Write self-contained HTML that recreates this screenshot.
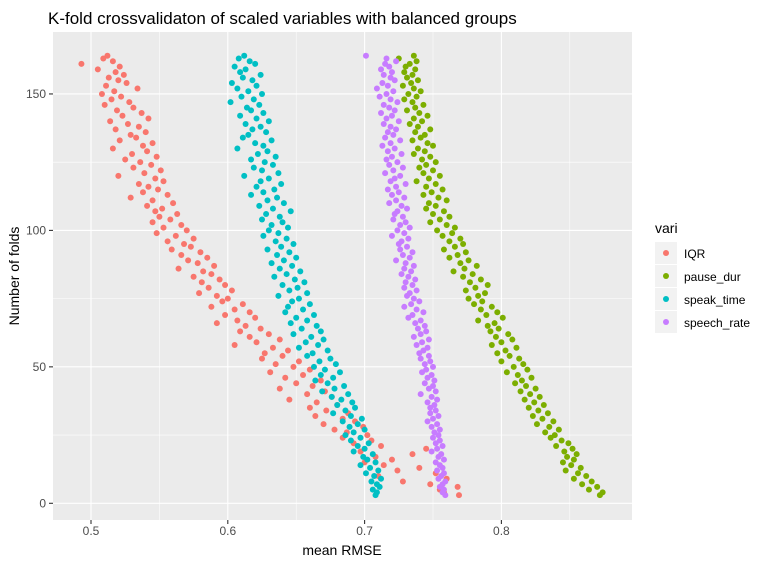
<!DOCTYPE html>
<html><head><meta charset="utf-8"><style>
body{margin:0;background:#fff;}
svg text{font-family:"Liberation Sans",Arial,sans-serif;}
</style></head><body>
<svg id="chart" width="768" height="565" xmlns="http://www.w3.org/2000/svg">
<rect width="768" height="565" fill="#fff"/>
<text x="48" y="24" font-size="17" fill="#000">K-fold crossvalidaton of scaled variables with balanced groups</text>
<rect x="53" y="32" width="579" height="488" fill="#EBEBEB"/>
<g id="grid"></g>
<g id="points"></g>
<g id="axes"></g>
<text x="342" y="555" font-size="14" text-anchor="middle" fill="#000">mean RMSE</text>
<text transform="translate(19,276) rotate(-90)" font-size="14" text-anchor="middle" fill="#000">Number of folds</text>
<g id="legend">
<text x="655" y="233" font-size="14" fill="#000">vari</text>
</g>
</svg>
<script>
const seriesNames = ["IQR","pause_dur","speak_time","speech_rate"];
const seriesColors = ["#F8766D","#7CAE00","#00BFC4","#C77CFF"];
const xTicks = [0.5,0.6,0.7,0.8];
const xTickLabels = ["0.5","0.6","0.7","0.8"];
const yTicks = [0,50,100,150];
const yTickLabels = ["0","50","100","150"];
const foldMax = 164;
// RMSE values per fold, from fold 164 down to fold 3
const iqrValues = [
0.512,0.509,0.516,0.493,0.521,0.505,0.518,0.524,0.513,0.520,
0.526,0.511,0.534,0.517,0.508,0.522,0.515,0.528,0.510,0.531,
0.519,0.537,0.523,0.542,0.514,0.527,0.535,0.518,0.540,0.529,
0.533,0.521,0.545,0.538,0.516,0.541,0.530,0.548,0.525,0.536,
0.544,0.531,0.551,0.539,0.520,0.547,0.553,0.535,0.542,0.549,
0.538,0.556,0.529,0.545,0.560,0.541,0.552,0.547,0.563,0.550,
0.558,0.545,0.566,0.553,0.570,0.548,0.562,0.575,0.556,0.568,
0.573,0.559,0.580,0.566,0.585,0.571,0.578,0.590,0.564,0.582,
0.588,0.575,0.594,0.581,0.598,0.586,0.603,0.579,0.592,0.600,
0.596,0.611,0.588,0.605,0.616,0.598,0.620,0.607,0.592,0.613,
0.624,0.609,0.630,0.616,0.638,0.621,0.605,0.633,0.644,0.627,
0.640,0.625,0.652,0.635,0.648,0.660,0.631,0.655,0.642,0.668,
0.650,0.662,0.638,0.671,0.658,0.676,0.645,0.665,0.680,0.660,
0.672,0.688,0.664,0.684,0.693,0.670,0.699,0.678,0.687,0.702,
0.684,0.705,0.692,0.712,0.745,0.697,0.735,0.708,0.720,0.700,
0.714,0.740,0.724,0.752,0.710,0.760,0.728,0.748,0.768,0.755,
0.758,0.769];
const pauseDurValues = [
0.736,0.725,0.738,0.733,0.730,0.737,0.729,0.735,0.731,0.739,
0.734,0.728,0.736,0.741,0.732,0.738,0.729,0.735,0.743,0.737,
0.731,0.740,0.746,0.736,0.742,0.733,0.739,0.748,0.737,0.744,
0.741,0.735,0.746,0.750,0.739,0.744,0.736,0.748,0.742,0.752,
0.745,0.740,0.750,0.743,0.755,0.747,0.738,0.752,0.745,0.757,
0.749,0.743,0.754,0.760,0.747,0.752,0.745,0.758,0.750,0.762,
0.755,0.748,0.760,0.766,0.753,0.764,0.757,0.770,0.762,0.772,
0.766,0.758,0.774,0.768,0.762,0.776,0.770,0.782,0.773,0.765,
0.779,0.772,0.785,0.777,0.790,0.781,0.774,0.788,0.783,0.776,
0.786,0.780,0.793,0.785,0.797,0.789,0.801,0.783,0.795,0.790,
0.798,0.792,0.805,0.796,0.808,0.800,0.793,0.811,0.803,0.797,
0.806,0.813,0.800,0.816,0.809,0.819,0.804,0.812,0.822,0.815,
0.810,0.818,0.825,0.814,0.821,0.828,0.817,0.824,0.831,0.820,
0.827,0.834,0.823,0.830,0.838,0.826,0.835,0.842,0.832,0.839,
0.836,0.844,0.849,0.840,0.852,0.846,0.855,0.848,0.853,0.845,
0.851,0.858,0.847,0.856,0.862,0.853,0.866,0.859,0.870,0.864,
0.874,0.872];
const speakTimeValues = [
0.612,0.608,0.616,0.620,0.605,0.613,0.609,0.624,0.611,0.618,
0.603,0.621,0.607,0.615,0.625,0.610,0.619,0.602,0.623,0.614,
0.617,0.626,0.609,0.621,0.630,0.613,0.624,0.618,0.628,0.615,
0.611,0.632,0.620,0.626,0.607,0.629,0.622,0.635,0.617,0.627,
0.633,0.619,0.625,0.637,0.612,0.630,0.624,0.639,0.621,0.634,
0.626,0.617,0.636,0.629,0.641,0.623,0.633,0.646,0.628,0.638,
0.625,0.640,0.632,0.644,0.630,0.637,0.626,0.643,0.635,0.648,
0.639,0.629,0.645,0.636,0.650,0.641,0.632,0.647,0.638,0.653,
0.643,0.634,0.649,0.656,0.640,0.651,0.645,0.658,0.637,0.652,
0.647,0.660,0.644,0.655,0.642,0.663,0.650,0.658,0.646,0.665,
0.654,0.668,0.648,0.661,0.670,0.657,0.666,0.652,0.673,0.662,
0.658,0.675,0.667,0.679,0.663,0.671,0.682,0.668,0.677,0.664,
0.673,0.685,0.678,0.669,0.688,0.676,0.683,0.691,0.680,0.693,
0.686,0.677,0.690,0.698,0.684,0.695,0.689,0.700,0.692,0.686,
0.697,0.690,0.703,0.695,0.700,0.692,0.706,0.699,0.702,0.708,
0.697,0.704,0.710,0.701,0.707,0.712,0.705,0.709,0.711,0.706,
0.709,0.708];
const speechRateValues = [
0.701,0.716,0.723,0.715,0.718,0.712,0.720,0.714,0.719,0.722,
0.713,0.717,0.709,0.721,0.716,0.711,0.719,0.724,0.714,0.718,
0.722,0.712,0.720,0.716,0.725,0.714,0.719,0.723,0.717,0.721,
0.715,0.726,0.719,0.713,0.722,0.717,0.727,0.720,0.716,0.724,
0.718,0.728,0.721,0.715,0.726,0.722,0.719,0.730,0.723,0.717,
0.725,0.720,0.729,0.723,0.718,0.727,0.731,0.724,0.722,0.728,
0.721,0.730,0.726,0.733,0.724,0.729,0.720,0.732,0.727,0.725,
0.731,0.726,0.735,0.728,0.733,0.723,0.730,0.736,0.729,0.734,
0.727,0.732,0.737,0.730,0.735,0.729,0.738,0.733,0.731,0.736,
0.740,0.734,0.729,0.738,0.743,0.735,0.732,0.741,0.737,0.744,
0.739,0.745,0.741,0.736,0.747,0.742,0.738,0.746,0.743,0.740,
0.747,0.741,0.748,0.744,0.750,0.745,0.742,0.749,0.746,0.751,
0.744,0.750,0.747,0.752,0.741,0.749,0.753,0.746,0.751,0.748,
0.752,0.748,0.754,0.750,0.746,0.753,0.749,0.755,0.751,0.754,
0.750,0.755,0.752,0.757,0.753,0.749,0.756,0.754,0.758,0.752,
0.755,0.757,0.753,0.758,0.756,0.754,0.759,0.757,0.755,0.758,
0.757,0.759];
const seriesValues = [iqrValues, pauseDurValues, speakTimeValues, speechRateValues];

const NS = "http://www.w3.org/2000/svg";
const P = {l:53, r:632, t:32, b:520};
function xScale(v){ return 91 + (v - 0.5) * 1368; }
function yScale(f){ return 503.3 - f * 2.729; }
function mk(tag, attrs, parent){ const e=document.createElementNS(NS,tag); for(const k in attrs) e.setAttribute(k,attrs[k]); parent.appendChild(e); return e; }

const grid = document.getElementById('grid');
for (let i=0;i<xTicks.length+1;i++){
  const v = 0.45 + i*0.1;
  const x = xScale(v);
  if (x>P.l && x<P.r){
    const ln = mk('line',{x1:x,x2:x,y1:P.t,y2:P.b,stroke:'#fff','stroke-width':0.55},grid);
    
    
  }
}
for (let i=0;i<yTicks.length;i++){
  const y = yScale(yTicks[i]+25);
  if (y>P.t){
    const ln = mk('line',{x1:P.l,x2:P.r,y1:y,y2:y,stroke:'#fff','stroke-width':0.55},grid);
    
    
  }
}
const axes = document.getElementById('axes');
xTicks.forEach((v,i)=>{
  const x = xScale(v);
  const ln = mk('line',{x1:x,x2:x,y1:P.t,y2:P.b,stroke:'#fff','stroke-width':1.1},grid);
  
  
  mk('line',{x1:x,x2:x,y1:P.b,y2:P.b+4,stroke:'#333','stroke-width':1.1},axes);
  const t = mk('text',{x:x,y:P.b+15,'font-size':12,'text-anchor':'middle',fill:'#4D4D4D'},axes);
  t.textContent = xTickLabels[i];
  
  
});
yTicks.forEach((v,i)=>{
  const y = yScale(v);
  const ln = mk('line',{x1:P.l,x2:P.r,y1:y,y2:y,stroke:'#fff','stroke-width':1.1},grid);
  
  
  mk('line',{x1:P.l-4,x2:P.l,y1:y,y2:y,stroke:'#333','stroke-width':1.1},axes);
  const t = mk('text',{x:P.l-7,y:y+4,'font-size':12,'text-anchor':'end',fill:'#4D4D4D'},axes);
  t.textContent = yTickLabels[i];
  
  
});

const pts = document.getElementById('points');
seriesValues.forEach((arr,s)=>{
  arr.forEach((v,i)=>{
    const fold = foldMax - i;
    const c = mk('circle',{cx:xScale(v),cy:yScale(fold),r:3,fill:seriesColors[s]},pts);
    
    
  });
});

const leg = document.getElementById('legend');
seriesNames.forEach((n,i)=>{
  const y0 = 242 + i*23;
  const k = mk('rect',{x:655,y:y0,width:22,height:22,fill:'#F2F2F2'},leg);
  
  
  mk('circle',{cx:666,cy:y0+11,r:3,fill:seriesColors[i]},leg);
  const t = mk('text',{x:684,y:y0+16,'font-size':12,fill:'#000'},leg);
  t.textContent = n;
  
  
});
</script>
</body></html>
